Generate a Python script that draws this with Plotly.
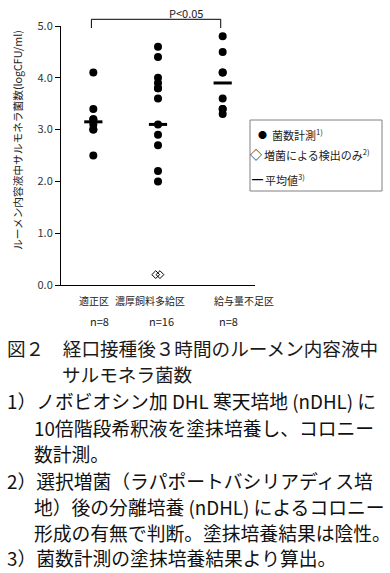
import plotly.graph_objects as go

# ---------------- data ----------------
categories = ["適正区", "濃厚飼料多給区", "給与量不足区"]
n_counts = [8, 16, 8]
counted_g1 = [4.1, 3.4, 3.2, 3.2, 3.1, 3.0, 3.0, 2.5]
counted_g2 = [4.6, 4.4, 4.0, 3.9, 3.8, 3.8, 3.6, 3.1, 2.9, 2.7, 2.2, 2.0]
counted_g3 = [4.8, 4.5, 4.1, 4.1, 3.6, 3.4, 3.4, 3.3]
enrich_only_g2 = [0.2, 0.2]
mean_values = [3.15, 3.1, 3.9]
y_ticks = [0.0, 1.0, 2.0, 3.0, 4.0, 5.0]

# ---------------- layout constants ----------------
W, H = 390, 573
L, R, T, B = 61, 135, 26, 288
PW, PH = W - L - R, H - T - B
FONT = "Noto Sans CJK JP, Noto Sans, sans-serif"


def px(x):
    return (x - L) / PW


def py(y):
    return 1 - (y - T) / PH


fig = go.Figure()

counted = [counted_g1, counted_g2, counted_g3]
for i, vals in enumerate(counted):
    fig.add_trace(go.Scatter(
        x=[i + 1] * len(vals), y=vals, mode="markers",
        marker=dict(symbol="circle", size=8, color="black"),
        showlegend=False, cliponaxis=False, hoverinfo="y"))

# enrichment-only detections (two overlapping diamonds)
diamond_offsets = [-0.035, 0.03]
fig.add_trace(go.Scatter(
    x=[2 + o for o in diamond_offsets], y=enrich_only_g2, mode="markers",
    marker=dict(symbol="diamond-open", size=6, color="black", line=dict(width=1)),
    showlegend=False, cliponaxis=False))

# means
fig.add_trace(go.Scatter(
    x=[1, 2, 3], y=mean_values, mode="markers",
    marker=dict(symbol="line-ew", size=13, color="black",
                line=dict(width=3, color="black")),
    showlegend=False, cliponaxis=False))

shapes = []
# significance bracket
shapes.append(dict(type="path", xref="x", yref="paper",
                   path=f"M 0.97,{py(28)} L 0.97,{py(19.3)} L 2.97,{py(19.3)} L 2.97,{py(28)}",
                   line=dict(color="black", width=1)))
# legend box
shapes.append(dict(type="rect", xref="paper", yref="paper",
                   x0=px(250), x1=px(382), y0=py(191), y1=py(120),
                   line=dict(color="#808080", width=1), fillcolor="white"))

ann = []
ann.append(dict(text="P<0.05", xref="paper", yref="paper", x=px(186), y=py(13),
                showarrow=False, font=dict(size=11, color="#222"),
                xanchor="center", yanchor="middle"))

# y-axis title
ann.append(dict(text="ルーメン内容液中サルモネラ菌数(logCFU/ml)", textangle=-90,
                xref="paper", yref="paper", x=px(17), y=py(140),
                showarrow=False, font=dict(size=10.7, color="#222"),
                xanchor="center", yanchor="middle"))

# category labels and n
label_shift = [1, -8, 21]
n_shift = [6, 3, 6]
for i, (c, n) in enumerate(zip(categories, n_counts)):
    ann.append(dict(text=c, xref="x", yref="paper", x=i + 1, y=py(300),
                    xshift=label_shift[i], showarrow=False,
                    font=dict(size=10, color="#222"),
                    xanchor="center", yanchor="middle"))
    ann.append(dict(text=f"n={n}", xref="x", yref="paper", x=i + 1, y=py(321),
                    xshift=n_shift[i], showarrow=False,
                    font=dict(size=11, color="#222"),
                    xanchor="center", yanchor="middle"))

# legend content
legend_rows = [
    ("●", 9, 262, "菌数計測<sup>1)</sup>", 270, 134),
    ("◇", 12, 256, "増菌による検出のみ<sup>2)</sup>", 262, 154),
    ("━", 11, 257, "平均値<sup>3)</sup>", 263, 179),
]
for sym, ss, sx, txt, tx, ty in legend_rows:
    ann.append(dict(text=sym, xref="paper", yref="paper", x=px(sx), y=py(ty),
                    showarrow=False, font=dict(size=ss, color="black"),
                    xanchor="center", yanchor="middle"))
    ann.append(dict(text=txt, xref="paper", yref="paper", x=px(tx), y=py(ty),
                    showarrow=False, font=dict(size=11, color="#222"),
                    xanchor="left", yanchor="middle"))

# caption
ann.append(dict(text="図２　経口接種後３時間のルーメン内容液中", xref="paper", yref="paper",
                x=px(5), y=py(347), showarrow=False,
                font=dict(size=18.6, color="#1a1a1a"), xanchor="left", yanchor="middle"))
ann.append(dict(text="サルモネラ菌数", xref="paper", yref="paper",
                x=px(60), y=py(373), showarrow=False,
                font=dict(size=18.6, color="#1a1a1a"), xanchor="left", yanchor="middle"))

# footnotes
notes = [
    ("1）ノボビオシン加 DHL 寒天培地 (nDHL) に", 5, 400),
    ("10倍階段希釈液を塗抹培養し、コロニー", 32, 427),
    ("数計測。", 32, 453),
    ("2）選択増菌（ラパポートバシリアディス培", 5, 480),
    ("地）後の分離培養 (nDHL) によるコロニー", 32, 506),
    ("形成の有無で判断。塗抹培養結果は陰性。", 32, 532),
    ("3）菌数計測の塗抹培養結果より算出。", 5, 557),
]
for txt, x0, y0 in notes:
    ann.append(dict(text=txt, xref="paper", yref="paper", x=px(x0), y=py(y0),
                    showarrow=False, font=dict(size=18.8, color="#111"),
                    xanchor="left", yanchor="middle"))

fig.update_layout(
    width=W, height=H,
    margin=dict(l=L, r=R, t=T, b=B, pad=0),
    plot_bgcolor="white", paper_bgcolor="white",
    font=dict(family=FONT, size=11, color="#222"),
    shapes=shapes, annotations=ann,
    xaxis=dict(range=[0.5, 3.5], showticklabels=False, ticks="",
               showgrid=False, zeroline=False, showline=True,
               linecolor="black", linewidth=1, fixedrange=True),
    yaxis=dict(range=[0, 5], tickvals=y_ticks,
               ticktext=[f"{v:.1f}" for v in y_ticks],
               ticks="outside", ticklen=5, tickcolor="black",
               showgrid=False, zeroline=False, showline=True,
               linecolor="black", linewidth=1,
               tickfont=dict(size=11, color="#333"), fixedrange=True),
    showlegend=False,
)

fig.write_html("out.html",
               config={"displayModeBar": False},
               post_script="document.body.style.margin='0px';document.body.style.padding='0px';document.body.style.overflow='hidden';")
